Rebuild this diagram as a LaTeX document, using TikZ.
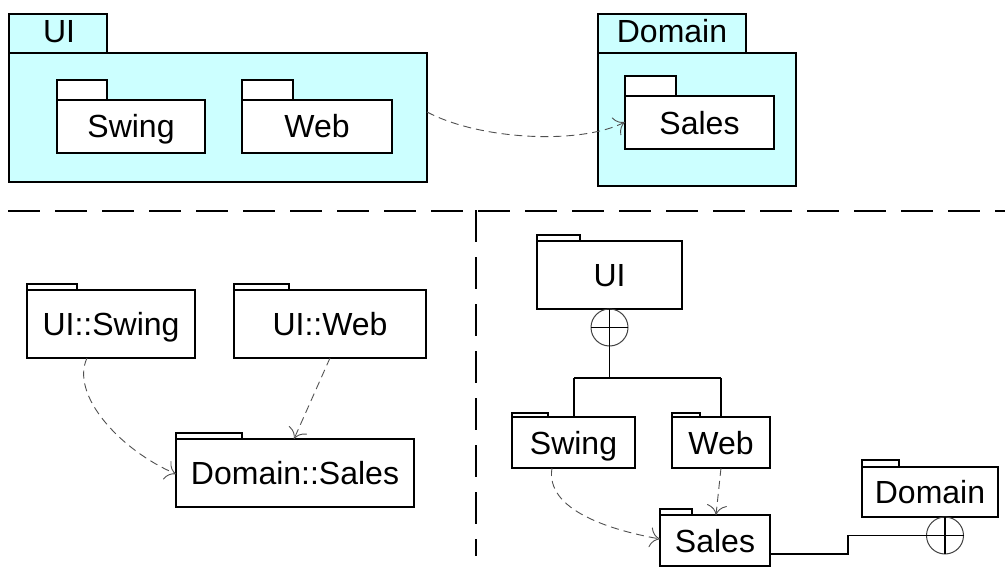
\documentclass[tikz,border=0pt]{standalone}
\usepackage{fontspec}
\setmainfont{Liberation Sans}
\usetikzlibrary{arrows.meta}
\definecolor{pkgcyan}{HTML}{CCFFFF}
\definecolor{depgray}{HTML}{505050}
\tikzset{
  pkgbox/.style={draw=black, line width=1.2pt, anchor=north west, inner sep=0pt, outer sep=0pt, text height=23pt, text depth=0pt},
  tablabel/.style={inner sep=0pt, text height=23pt, text depth=0pt},
  dep/.style={draw=depgray, line width=0.9pt, dash pattern=on 8pt off 5pt, -{To[length=10pt,width=20pt]}},
  sepline/.style={draw=black, line width=2.2pt, dash pattern=on 32pt off 15pt},
  nestline/.style={draw=black, line width=1.2pt},
  nestcircle/.style={circle, draw=black!75, line width=1pt, minimum size=37pt, inner sep=0pt, outer sep=0pt},
}
% \pkg{name}{x1}{y1}{x2}{y2}{tabw}{tabh}{fill}{text}
\newcommand{\pkg}[9]{%
  \pgfmathsetmacro{\pkgw}{#4-#2}\pgfmathsetmacro{\pkgh}{#5-#3}%
  \node[pkgbox, fill=#8, minimum width=\pkgw pt, minimum height=\pkgh pt] (#1) at (#2,#3) {#9};
  \draw[line width=1.2pt, fill=#8] (#1.north west) rectangle ++(#6,-#7);
}
\begin{document}
\begin{tikzpicture}[x=1pt,y=-1pt, font=\fontsize{32}{38}\selectfont]
\useasboundingbox (0,0) rectangle (1005,578);

% ---------- top: nested packages ----------
\pkg{uiTop}{9}{53}{427}{182}{98}{39}{pkgcyan}{}
\node[tablabel] (uiTopLabel) at (59,31.5) {UI};
\pkg{swingTop}{57}{100}{205}{153}{50}{20}{white}{Swing}
\pkg{webTop}{242}{100}{392}{153}{51}{20}{white}{Web}

\pkg{domTop}{598}{53}{796}{186}{148}{39}{pkgcyan}{}
\node[tablabel] (domTopLabel) at (672,31.5) {Domain};
\pkg{salesTop}{625}{96}{774}{149}{51}{20}{white}{Sales}

\coordinate (uiTopOut) at (427,112);
\coordinate (salesTopIn) at (625,122);
\draw[dep] (uiTopOut) .. controls (480,140) and (580,145) .. (salesTopIn);

% ---------- separators ----------
\coordinate (sepL) at (8,210.7);
\coordinate (sepR) at (1005,210.7);
\coordinate (sepT) at (476,210);
\coordinate (sepB) at (476,556);
\draw[sepline] (sepL) -- (sepR);
\draw[sepline] (sepT) -- (sepB);

% ---------- bottom left: qualified names ----------
\pkg{uiSwing}{27}{290}{195}{358}{50}{6}{white}{UI::Swing}
\pkg{uiWeb}{234}{290}{426}{358}{55}{6}{white}{UI::Web}
\pkg{domSales}{176}{439}{414}{507}{66}{6}{white}{Domain::Sales}

\coordinate (uiSwingOut) at (87,358);
\coordinate (domSalesIn) at (176,474);
\draw[dep] (uiSwingOut) .. controls (70,395) and (120,450) .. (domSalesIn);
\coordinate (uiWebOut) at (330,358);
\coordinate (domSalesTop) at (294,439);
\draw[dep] (uiWebOut) -- (domSalesTop);

% ---------- bottom right: containment notation ----------
\pkg{uiR}{537}{241}{682}{309}{43}{6}{white}{UI}
\pkg{swingR}{512}{417}{635}{468}{36}{4}{white}{Swing}
\pkg{webR}{672}{417}{770}{468}{28}{4}{white}{Web}
\pkg{salesR}{660}{515}{770}{566}{32}{6}{white}{Sales}
\pkg{domR}{862}{467}{998}{517}{37}{7}{white}{Domain}

\node[nestcircle] (uiCirc) at (609.5,327.5) {};
\draw[nestline] (uiCirc.west) -- (uiCirc.east);
\draw[nestline] (uiCirc.north) -- (uiCirc.south);
\coordinate (treeJ) at (609.5,378);
\coordinate (treeL) at (574,378);
\coordinate (treeR) at (721,378);
\coordinate (swingTopPt) at (574,417);
\coordinate (webTopPt) at (721,417);
\draw[nestline] (uiCirc.south) -- (treeJ);
\draw[nestline] (treeL) -- (treeR);
\draw[nestline] (treeL) -- (swingTopPt);
\draw[nestline] (treeR) -- (webTopPt);

\node[nestcircle] (domCirc) at (945,535.5) {};
\draw[nestline] (domCirc.west) -- (domCirc.east);
\draw[nestline] (domCirc.north) -- (domCirc.south);
\coordinate (salesROut) at (770,554);
\coordinate (bendA) at (848,554);
\coordinate (bendB) at (848,535.5);
\draw[nestline] (salesROut) -- (bendA) -- (bendB) -- (domCirc.west);

\coordinate (swingROut) at (552,468);
\coordinate (salesRIn) at (660,539);
\draw[dep] (swingROut) .. controls (545,510) and (610,530) .. (salesRIn);
\coordinate (webROut) at (721,468);
\coordinate (salesRTop) at (716,515);
\draw[dep] (webROut) -- (salesRTop);
\end{tikzpicture}
\end{document}
